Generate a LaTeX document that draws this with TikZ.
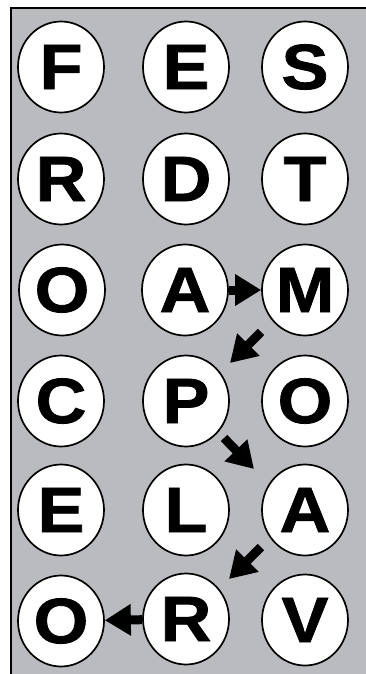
\documentclass[tikz,border=0pt]{standalone}
\usepackage{fontspec}
\setmainfont{Liberation Sans}
\newfontfamily\letterfont[FakeStretch=1.1,FakeBold=1.2]{Liberation Sans Bold}
\usetikzlibrary{shapes.geometric,arrows.meta}
\definecolor{panelgray}{RGB}{186,187,191}
\tikzset{
  ball/.style={ellipse, draw=black, line width=1.7pt, fill=white, inner sep=0pt,
    minimum width=86pt, minimum height=91pt,
    font=\letterfont\fontsize{64}{64}\selectfont},
  blockarrow/.style={draw=black, line width=9pt,
    -{Triangle[length=26pt,width=30pt]}},
}
\begin{document}
\begin{tikzpicture}[x=1pt,y=-1pt]
\useasboundingbox (0,0) rectangle (366,674);
\begin{scope}
\clip (0,0) rectangle (366,674);
\draw[line width=2pt, fill=panelgray] (11,8) rectangle (380,690);
\end{scope}
% column x: 61, 186, 305 ; row y: 67, 179, 290, 401, 510, 620
\node[ball] (F)  at (61,67)  {F};
\node[ball] (E1) at (186,67) {E};
\node[ball] (S)  at (305,67) {S};
\node[ball] (R1) at (61,179) {R};
\node[ball] (D)  at (186,179) {D};
\node[ball] (T)  at (305,179) {T};
\node[ball] (O1) at (62,290) {O};
\node[ball] (A1) at (185,290) {A};
\node[ball] (M)  at (305,290) {M};
\node[ball] (C)  at (61,401) {C};
\node[ball] (P)  at (186,401) {P};
\node[ball] (O2) at (305,401) {O};
\node[ball] (E2) at (61,510) {E};
\node[ball] (L)  at (186,510) {L};
\node[ball] (A2) at (305,510) {A};
\node[ball] (O3) at (61,621) {O};
\node[ball] (R2) at (186,619) {R};
\node[ball] (V)  at (305,620) {V};
% arrows
\coordinate (mp1) at (261,332);
\coordinate (mp2) at (230,363);
\coordinate (pa1) at (224,438);
\coordinate (pa2) at (254,469);
\coordinate (ar1) at (261,547);
\coordinate (ar2) at (229,579);
\draw[blockarrow] (A1) -- (M);
\draw[blockarrow] (mp1) -- (mp2);
\draw[blockarrow] (pa1) -- (pa2);
\draw[blockarrow] (ar1) -- (ar2);
\draw[blockarrow] (R2) -- (O3);
\end{tikzpicture}
\end{document}
